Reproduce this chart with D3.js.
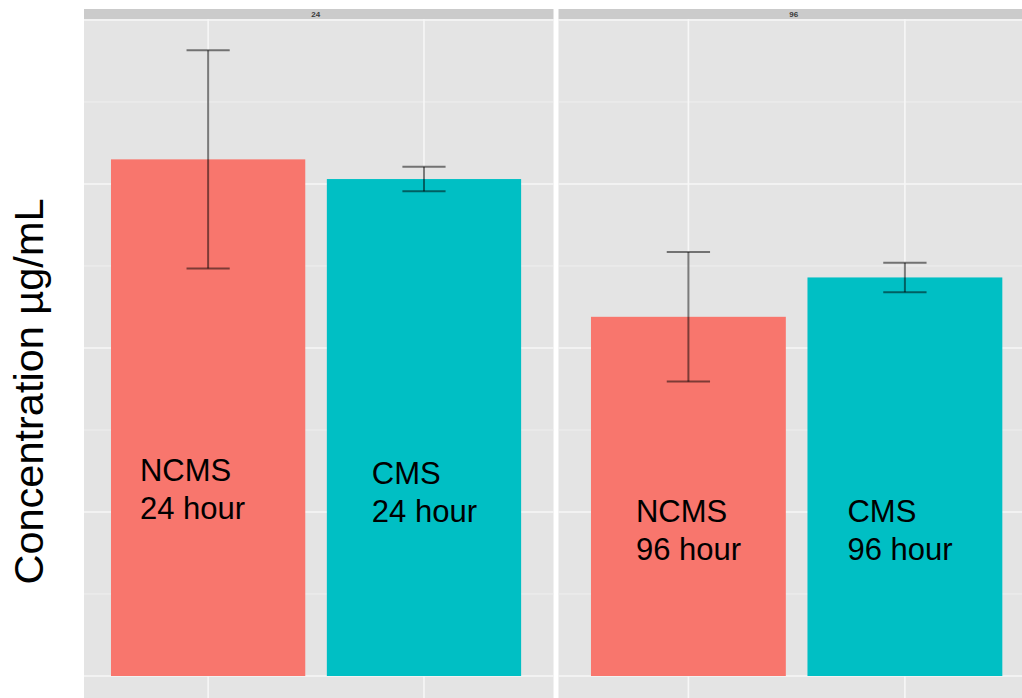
<!DOCTYPE html>
<html>
<head>
<meta charset="utf-8">
<script src="https://cdn.jsdelivr.net/npm/d3@7"></script>
<style>
  html, body { margin: 0; padding: 0; background: #ffffff; }
  svg { display: block; }
  text { font-family: "Liberation Sans", Arial, Helvetica, sans-serif; }
</style>
</head>
<body>
<svg id="chart" width="1022" height="698"></svg>
<script>
// Facets (time points) and treatment groups within each facet
const facets = ["24", "96"];
const groups = ["NCMS", "CMS"];
const hourLabels = ["24 hour", "96 hour"];

// Mean concentration (µg/mL) per facet, in group order
const means24 = [31.5, 30.3];
const means96 = [21.9, 24.3];
// Error half-widths per facet, in group order
const err24 = [6.65, 0.75];
const err96 = [3.95, 0.9];

// y-axis breaks
const majorBreaks = [0, 10, 20, 30, 40];
const minorBreaks = [5, 15, 25, 35];

const groupColors = ["#F8766D", "#00BFC4"];

const means = [means24, means96];
const errs = [err24, err96];

const svg = d3.select("#chart");

// ---- layout ----
const stripTop = 9, stripH = 10;
const panelTop = stripTop + stripH;
const zeroY = 676;

// y scale with 5% expansion below zero and above the highest whisker
const topVal = d3.max(facets.flatMap((f, i) => means[i].map((m, j) => m + errs[i][j])));
const pad = 0.05 * topVal;
const pxPerUnit = (zeroY - panelTop) / (topVal + pad);
const y = d3.scaleLinear()
  .domain([-pad, topVal + pad])
  .range([zeroY + pad * pxPerUnit, panelTop]);

// each facet gets its own x scale over the group index
const panels = [
  { left: 84,    right: 553.5, domain: [-0.575, 1.6] },
  { left: 558.5, right: 558.5 + 2.2 * 216.5, domain: [-0.6, 1.6] }
];

// annotation placement: offset from bar's left edge (px) and first-line baseline (data units)
const labelAt = [
  [{ dx: 29, v: 11.9 }, { dx: 45, v: 11.7 }],
  [{ dx: 45, v: 9.4 },  { dx: 40, v: 9.4 }]
];

facets.forEach((facet, fi) => {
  const p = panels[fi];
  const x = d3.scaleLinear().domain(p.domain).range([p.left, p.right]);
  const unit = x(1) - x(0);
  const barW = 0.9 * unit;
  const capW = 0.2 * unit;
  const g = svg.append("g");
  const bottom = y.range()[0];

  // panel background
  g.append("rect")
    .attr("x", p.left).attr("y", panelTop)
    .attr("width", p.right - p.left).attr("height", bottom - panelTop)
    .attr("fill", "#e4e4e4");

  // minor horizontal grid
  g.selectAll(".minor").data(minorBreaks).join("line")
    .attr("x1", p.left).attr("x2", p.right)
    .attr("y1", d => y(d)).attr("y2", d => y(d))
    .attr("stroke", "#efefef").attr("stroke-width", 1);

  // major horizontal grid
  g.selectAll(".major").data(majorBreaks).join("line")
    .attr("x1", p.left).attr("x2", p.right)
    .attr("y1", d => y(d)).attr("y2", d => y(d))
    .attr("stroke", "#f7f7f7").attr("stroke-width", 1.6);

  // vertical grid at group positions
  g.selectAll(".vgrid").data(groups).join("line")
    .attr("x1", (d, i) => x(i)).attr("x2", (d, i) => x(i))
    .attr("y1", panelTop).attr("y2", bottom)
    .attr("stroke", "#f7f7f7").attr("stroke-width", 1.6);

  // strip
  g.append("rect")
    .attr("x", p.left).attr("y", stripTop)
    .attr("width", p.right - p.left).attr("height", stripH)
    .attr("fill", "#cbcbcb");
  g.append("text")
    .attr("x", (p.left + p.right) / 2 - 3).attr("y", stripTop + stripH / 2 + 3)
    .attr("text-anchor", "middle")
    .attr("font-size", 8).attr("font-weight", "bold").attr("fill", "#3a3a3a")
    .text(facet);

  // bars
  g.selectAll(".bar").data(means[fi]).join("rect")
    .attr("x", (d, i) => x(i) - barW / 2)
    .attr("width", barW)
    .attr("y", d => y(d))
    .attr("height", d => y(0) - y(d))
    .attr("fill", (d, i) => groupColors[i]);

  // error bars
  const eb = g.selectAll(".eb").data(means[fi].map((m, i) => ({ m, e: errs[fi][i], i })))
    .join("g")
    .attr("stroke", "#000").attr("stroke-opacity", 0.5).attr("stroke-width", 2);
  eb.append("line")
    .attr("x1", d => x(d.i)).attr("x2", d => x(d.i))
    .attr("y1", d => y(d.m + d.e)).attr("y2", d => y(d.m - d.e));
  eb.append("line")
    .attr("x1", d => x(d.i) - capW / 2).attr("x2", d => x(d.i) + capW / 2)
    .attr("y1", d => y(d.m + d.e)).attr("y2", d => y(d.m + d.e));
  eb.append("line")
    .attr("x1", d => x(d.i) - capW / 2).attr("x2", d => x(d.i) + capW / 2)
    .attr("y1", d => y(d.m - d.e)).attr("y2", d => y(d.m - d.e));

  // in-bar annotations
  groups.forEach((grp, gi) => {
    const a = labelAt[fi][gi];
    const tx = x(gi) - barW / 2 + a.dx;
    const t = g.append("text")
      .attr("x", tx).attr("y", y(a.v))
      .attr("font-size", 31).attr("fill", "#000");
    t.append("tspan").attr("x", tx).text(grp);
    t.append("tspan").attr("x", tx).attr("dy", 38).text(hourLabels[fi]);
  });
});

// y-axis title
svg.append("text")
  .attr("transform", `translate(43, ${(198 + 585) / 2}) rotate(-90)`)
  .attr("text-anchor", "middle")
  .attr("font-size", 41.5).attr("fill", "#000")
  .text("Concentration µg/mL");
</script>
</body>
</html>
